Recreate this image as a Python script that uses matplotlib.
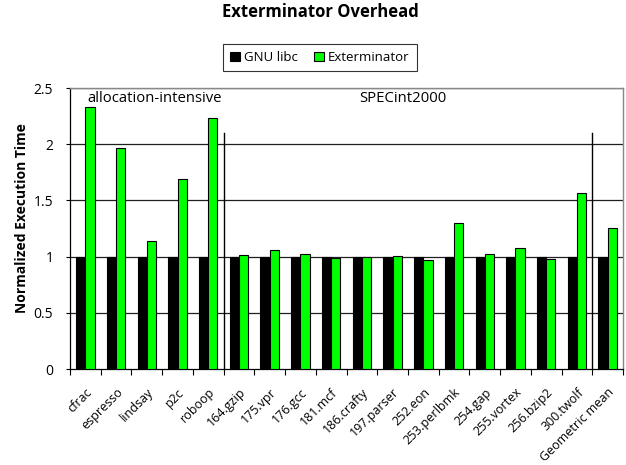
import matplotlib
matplotlib.use("Agg")
import matplotlib.pyplot as plt
import numpy as np

categories = ["cfrac", "espresso", "lindsay", "p2c", "roboop", "164.gzip", "175.vpr",
              "176.gcc", "181.mcf", "186.crafty", "197.parser", "252.eon", "253.perlbmk",
              "254.gap", "255.vortex", "256.bzip2", "300.twolf", "Geometric mean"]
gnu_libc = [1.0] * 18
exterminator = [2.33, 1.97, 1.14, 1.69, 2.23, 1.01, 1.06, 1.025, 0.99, 1.0, 1.005,
                0.97, 1.295, 1.02, 1.08, 0.975, 1.57, 1.255]
yticks = [0, 0.5, 1, 1.5, 2, 2.5]
ytick_labels = ["0", "0.5", "1", "1.5", "2", "2.5"]

plt.rcParams['font.family'] = ['Open Sans', 'DejaVu Sans']

W, H = 626, 465
fig = plt.figure(figsize=(6.26, 4.65), dpi=100)
ax = fig.add_axes([70/W, 1-369/H, (623-70)/W, (369-88)/H])

x = np.arange(len(categories))
w = 0.3
ax.bar(x - w/2, gnu_libc, w, color='black', edgecolor='black', linewidth=0.8,
       label='GNU libc', zorder=3)
ax.bar(x + w/2, exterminator, w, color='#00ff00', edgecolor='black', linewidth=0.8,
       label='Exterminator', zorder=3)

ax.set_xlim(-0.5, len(categories) - 0.5)
ax.set_ylim(0, 2.5)
ax.set_yticks(yticks)
ax.set_yticklabels(ytick_labels, fontsize=10)
for y in yticks[1:]:
    ax.axhline(y, color='#202020', linewidth=0.9, zorder=1)

ax.set_xticks(x)
ax.set_xticklabels(categories, rotation=45, ha='right', rotation_mode='anchor', fontsize=9)
ax.tick_params(axis='x', length=0, pad=12)
ax.set_xticks(np.arange(-0.5, len(categories)), minor=True)
ax.tick_params(axis='x', which='minor', length=4, width=0.8, direction='out')
ax.tick_params(axis='y', length=3, width=0.8, direction='out', pad=9)

for side in ['top', 'right']:
    ax.spines[side].set_color('#888888')
    ax.spines[side].set_linewidth(1.0)
ax.spines['left'].set_linewidth(0.9)
ax.spines['bottom'].set_linewidth(0.9)

# separators
for sx in [4.5, 16.5]:
    ax.plot([sx, sx], [0, 2.1], color='black', linewidth=1.0, zorder=4)

ax.text(0.05, 2.41, "allocation-intensive", fontsize=10.7, ha='left', va='center')
ax.text(8.9, 2.41, "SPECint2000", fontsize=10.7, ha='left', va='center')

fig.text(22/W, 1-218/H, "Normalized Execution Time", fontsize=10, fontweight='bold',
         ha='center', va='center', rotation=90)

fig.text(320/W, 1-12/H, "Exterminator Overhead", fontsize=12, fontweight='bold',
         ha='center', va='center')

handles, labels = ax.get_legend_handles_labels()
leg = fig.legend(handles, labels, loc='center', bbox_to_anchor=(320/W, 1-57.5/H),
                 ncol=2, fontsize=9.5, frameon=True, fancybox=False, edgecolor='black',
                 handlelength=0.75, handleheight=0.75, handletextpad=0.3, columnspacing=1.2,
                 borderpad=0.55, borderaxespad=0)
leg.get_frame().set_linewidth(0.8)

fig.savefig("out.png", dpi=100)
